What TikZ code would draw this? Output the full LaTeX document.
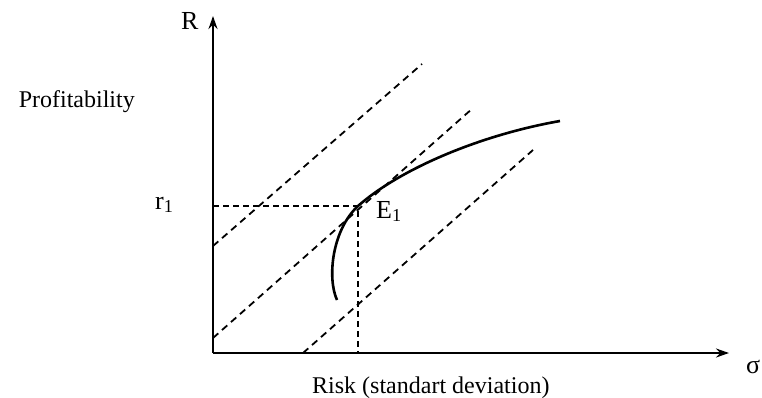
\documentclass[tikz,border=0pt]{standalone}
\usepackage{fontspec}
\setmainfont{Liberation Serif}
\usetikzlibrary{arrows.meta}
\begin{document}
\begin{tikzpicture}[x=1pt,y=-1pt,
  axis/.style={line width=2.6pt,-{Stealth[length=13pt,width=9pt]}},
  guide/.style={line width=1.8pt,dash pattern=on 7pt off 5pt},
  thinguide/.style={line width=1.3pt,dash pattern=on 6pt off 4pt},
  frontier/.style={line width=2.6pt},
  lbl/.style={inner sep=0pt,font=\fontsize{24}{28}\selectfont},
  sym/.style={inner sep=0pt,font=\fontsize{26}{30}\selectfont}]
\useasboundingbox (0,0) rectangle (762,397);
% axes
\coordinate (O) at (213,353);
\coordinate (Ytop) at (213,16);
\coordinate (Xend) at (729,353);
\draw[axis] (O) -- (Ytop);
\draw[axis] (O) -- (Xend);
% labels
\node[sym,anchor=base west] (R) at (181,29) {R};
\node[sym,anchor=base west] (sig) at (746,373) {σ};
\node[lbl,anchor=base east] (prof) at (135,107) {Profitability};
\node[lbl,anchor=base west] (risk) at (312,393) {Risk (standart deviation)};
\node[sym,anchor=base west] (r1) at (155,209) {r\textsubscript{1}};
\node[sym,anchor=base west] (E1) at (376,218) {E\textsubscript{1}};
% point E1 and projections
\coordinate (E) at (358,206);
\coordinate (Ey) at (213,206);
\coordinate (Ex) at (358,353);
\draw[thinguide] (Ey) -- (E) -- (Ex);
% parallel dashed lines
\coordinate (a1) at (213,246);
\coordinate (b1) at (422,64);
\coordinate (a2) at (213,338);
\coordinate (b2) at (473,108);
\coordinate (a3) at (303,353);
\coordinate (b3) at (533,150);
\draw[guide] (a1) -- (b1);
\draw[guide] (a2) -- (b2);
\draw[guide] (a3) -- (b3);
% efficient frontier
\coordinate (F0) at (337,300);
\coordinate (F1) at (560,121);
\draw[frontier] (F0) .. controls (327,278) and (332,230) .. (E)
  .. controls (400,169) and (480,135) .. (F1);
\end{tikzpicture}
\end{document}
